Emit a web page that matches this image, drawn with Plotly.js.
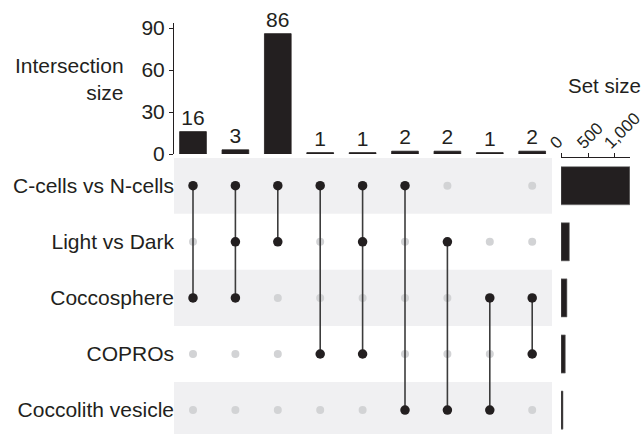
<!DOCTYPE html>
<html>
<head>
<meta charset="utf-8">
<script src="https://cdn.plot.ly/plotly-3.0.1.min.js"></script>
<style>html,body{margin:0;padding:0;background:#fff}#chart{width:644px;height:434px}</style>
</head>
<body>
<div id="chart"></div>
<script>
// ---- data ----
var setNames = ["C-cells vs N-cells", "Light vs Dark", "Coccosphere", "COPROs", "Coccolith vesicle"];
var setSizes = [1275, 155, 110, 80, 37];
var intersectionSizes = [16, 3, 86, 1, 1, 2, 2, 1, 2];
var memberships = [[0, 2], [0, 1, 2], [0, 1], [0, 3], [0, 1, 3], [0, 4], [1, 4], [2, 4], [2, 3]];
var missingDots = [[7, 0]]; // [column, set] cells drawn without a grey dot in the source
var barTicks = [0, 30, 60, 90];
var setTicks = [0, 500, 1000];
var setTickText = ["0", "500", "1,000"];

// ---- build ----
var W = 644, H = 434;
var FONT = "Liberation Sans, Arial, sans-serif";
var DARK = "#231f20";
var px = function (v) { return v / W; };
var py = function (v) { return 1 - v / H; };

var cols = intersectionSizes.map(function (_, i) { return i; });
var traces = [];

traces.push({
  type: "bar", x: cols, y: intersectionSizes, xaxis: "x", yaxis: "y",
  width: 0.63, marker: { color: DARK, line: { color: DARK, width: 0.8 } },
  text: intersectionSizes.map(String), textposition: "outside", cliponaxis: false,
  textfont: { family: FONT, size: 21, color: DARK }, hoverinfo: "skip"
});

// grey (non-member) dots
var gx = [], gy = [];
cols.forEach(function (c) {
  setNames.forEach(function (_, s) {
    var isMember = memberships[c].indexOf(s) >= 0;
    var isMissing = missingDots.some(function (m) { return m[0] === c && m[1] === s; });
    if (!isMember && !isMissing) { gx.push(c); gy.push(s); }
  });
});
traces.push({
  type: "scatter", mode: "markers", x: gx, y: gy, xaxis: "x", yaxis: "y2",
  marker: { color: "#d2d3d5", size: 8 }, hoverinfo: "skip"
});

// connecting lines
cols.forEach(function (c) {
  var m = memberships[c];
  traces.push({
    type: "scatter", mode: "lines", x: [c, c], y: [Math.min.apply(null, m), Math.max.apply(null, m)],
    xaxis: "x", yaxis: "y2", line: { color: "#3c3c3c", width: 1.6 }, hoverinfo: "skip"
  });
});

// member dots
var bx = [], by = [];
cols.forEach(function (c) { memberships[c].forEach(function (s) { bx.push(c); by.push(s); }); });
traces.push({
  type: "scatter", mode: "markers", x: bx, y: by, xaxis: "x", yaxis: "y2",
  marker: { color: DARK, size: 9.5 }, hoverinfo: "skip"
});

// set size bars
traces.push({
  type: "bar", orientation: "h", x: setSizes, y: setNames.map(function (_, i) { return i; }),
  xaxis: "x3", yaxis: "y3", width: 0.68,
  marker: { color: DARK, line: { color: "#777", width: 0.6 } }, hoverinfo: "skip"
});

var rowRange = [4.426, -0.494];
var shapes = [0, 2, 4].map(function (i) {
  return {
    type: "rect", xref: "paper", yref: "y2", x0: px(174), x1: px(552), y0: i - 0.5, y1: i + 0.5,
    fillcolor: "#f0f0f2", line: { width: 0 }, layer: "below"
  };
});

var layout = {
  width: W, height: H, margin: { l: 0, r: 0, t: 0, b: 0 },
  paper_bgcolor: "#fff", plot_bgcolor: "rgba(0,0,0,0)", showlegend: false,
  font: { family: FONT, size: 21, color: DARK },
  xaxis: { domain: [px(174), px(552)], range: [-0.448, 8.467], visible: false, fixedrange: true },
  yaxis: {
    domain: [py(154), py(23)], range: [0, 93.6], anchor: "free", position: px(173),
    showline: true, linecolor: DARK, linewidth: 1, ticks: "outside", ticklen: 4, tickcolor: DARK,
    tickvals: barTicks, showgrid: false, zeroline: false,
    tickfont: { family: FONT, size: 21, color: DARK }
  },
  yaxis2: {
    domain: [0, py(158)], range: rowRange, anchor: "free", position: px(174),
    tickvals: setNames.map(function (_, i) { return i; }), ticktext: setNames,
    ticks: "", showline: false, showgrid: false, zeroline: false,
    tickfont: { family: FONT, size: 21, color: DARK }
  },
  xaxis3: {
    domain: [px(561), px(630)], range: [0, 1278], anchor: "y3", side: "top",
    showline: true, linecolor: DARK, linewidth: 1, ticks: "outside", ticklen: 4, tickcolor: DARK,
    tickvals: setTicks, ticktext: setTickText, tickangle: -45, showgrid: false, zeroline: false,
    ticklabeloverflow: "allow", ticklabelstandoff: -6, ticklabelshift: -10,
    tickfont: { family: FONT, size: 17, color: DARK }
  },
  yaxis3: { domain: [0, py(158)], range: rowRange, anchor: "x3", visible: false },
  shapes: shapes,
  annotations: [
    { xref: "paper", yref: "paper", x: px(126), y: py(79), xanchor: "right", yanchor: "middle",
      align: "right", showarrow: false, text: "Intersection<br>size",
      font: { family: FONT, size: 21, color: DARK } },
    { xref: "paper", yref: "paper", x: px(604), y: py(85), xanchor: "center", yanchor: "middle",
      showarrow: false, text: "Set size", font: { family: FONT, size: 20.5, color: DARK } }
  ]
};

Plotly.newPlot("chart", traces, layout, { staticPlot: true, displayModeBar: false });
</script>
</body>
</html>
